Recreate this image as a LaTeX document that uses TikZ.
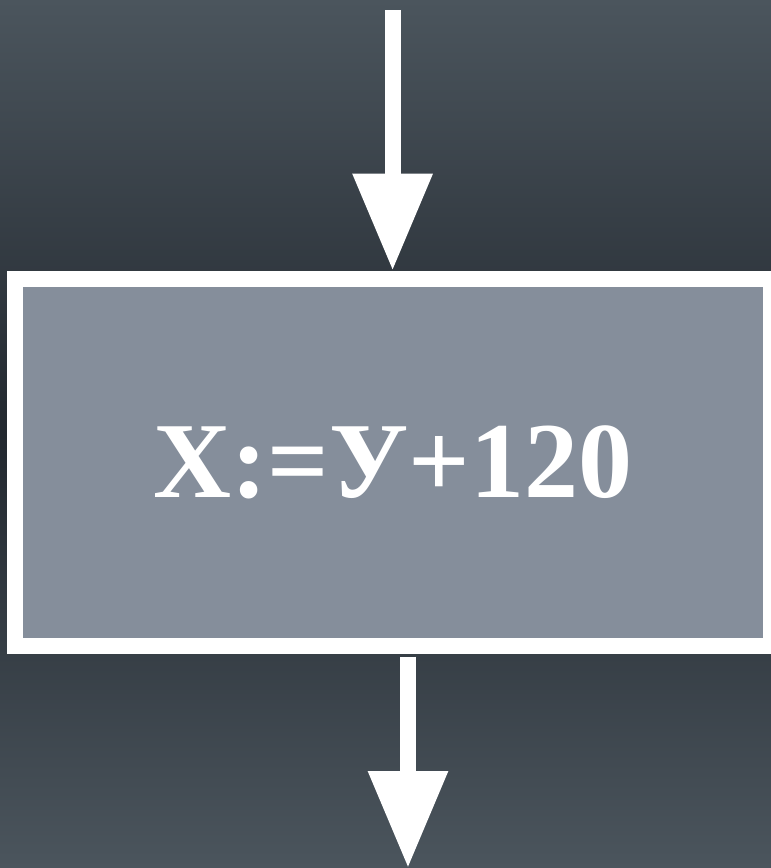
\documentclass[tikz,border=0pt]{standalone}
\usepackage{fontspec}
\setmainfont{Liberation Serif}
\usetikzlibrary{arrows.meta}
\definecolor{bgedge}{HTML}{4B555D}
\definecolor{bgmid}{HTML}{22282F}
\definecolor{boxfill}{HTML}{858E9B}
\tikzset{
  flowarrow/.style={draw=white, line width=16pt, -{Triangle[length=97pt,width=76pt]}},
  procbox/.style={draw=white, line width=16pt, fill=boxfill, rectangle,
    minimum width=756.3pt, minimum height=367.6pt, inner sep=0pt,
    text=white, font=\bfseries\fontsize{108pt}{120pt}\selectfont},
}
\begin{document}
\begin{tikzpicture}[x=1pt,y=-1pt]
  \useasboundingbox (0,0) rectangle (771,868);
  \shade[top color=bgedge, bottom color=bgedge, middle color=bgmid] (0,0) rectangle (771,868);
  \node[procbox] (box) at (392.85,462.5) {X:=У+120};
  \coordinate (tin) at (392.6,10);
  \coordinate (bout) at (408,868);
  \draw[flowarrow] (tin) -- (tin |- box.north);
  \draw[flowarrow, shorten <=2.4pt] (bout |- box.south) -- (bout);
\end{tikzpicture}
\end{document}
